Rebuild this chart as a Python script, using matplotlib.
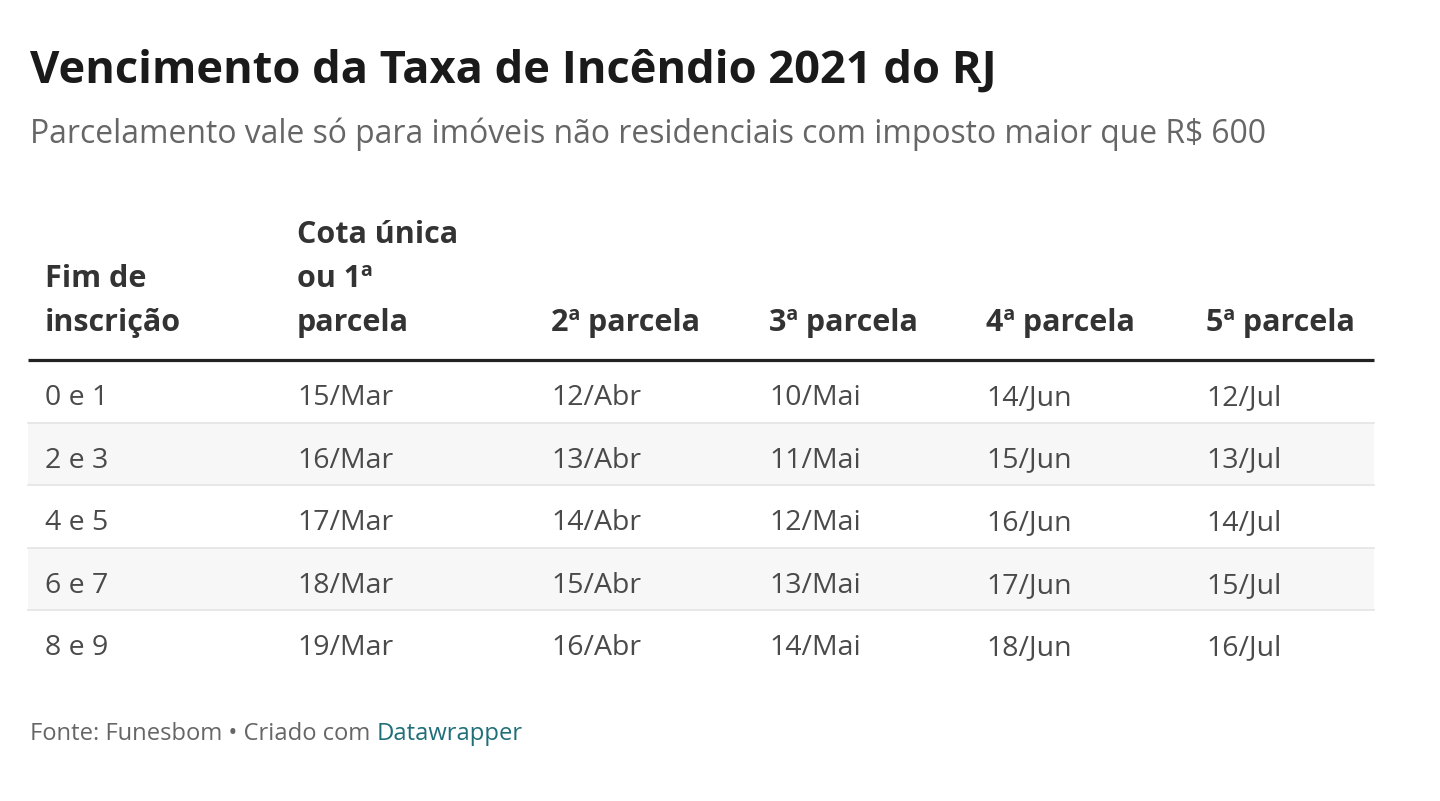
import matplotlib.pyplot as plt

plt.rcParams["font.family"] = ["Open Sans", "DejaVu Sans"]

# table data
titulo = "Vencimento da Taxa de Incêndio 2021 do RJ"
subtitulo = "Parcelamento vale só para imóveis não residenciais com imposto maior que R$ 600"
cabecalhos = [
    ["Fim de", "inscrição"],
    ["Cota única", "ou 1ª", "parcela"],
    ["2ª parcela"],
    ["3ª parcela"],
    ["4ª parcela"],
    ["5ª parcela"],
]
fim_inscricao = ["0 e 1", "2 e 3", "4 e 5", "6 e 7", "8 e 9"]
cota_unica = ["15/Mar", "16/Mar", "17/Mar", "18/Mar", "19/Mar"]
parcela_2 = ["12/Abr", "13/Abr", "14/Abr", "15/Abr", "16/Abr"]
parcela_3 = ["10/Mai", "11/Mai", "12/Mai", "13/Mai", "14/Mai"]
parcela_4 = ["14/Jun", "15/Jun", "16/Jun", "17/Jun", "18/Jun"]
parcela_5 = ["12/Jul", "13/Jul", "14/Jul", "15/Jul", "16/Jul"]

colunas = [fim_inscricao, cota_unica, parcela_2, parcela_3, parcela_4, parcela_5]

# layout in pixels
col_x = [45, 297, 551, 769, 986, 1206]
left, right = 28, 1374
header_line = 360
row_h = 62.6

fig = plt.figure(figsize=(14.4, 8.01), dpi=100)
ax = fig.add_axes([0, 0, 1, 1])
ax.set_xlim(0, 1440)
ax.set_ylim(801, 0)
ax.axis("off")

ax.text(30, 83, titulo, fontsize=32.6, fontweight="bold", color="#1a1a1a", va="baseline")
ax.text(30, 143, subtitulo, fontsize=22.95, color="#666666", va="baseline")

# header, bottom aligned
line_gap = 44
for x, linhas in zip(col_x, cabecalhos):
    for i, linha in enumerate(reversed(linhas)):
        ax.text(x, 331 - i * line_gap, linha, fontsize=22, fontweight="bold",
                color="#333333", va="baseline")

# rows
n = len(fim_inscricao)
for r in range(n):
    top = header_line + r * row_h
    if r % 2 == 1:
        ax.fill_between([left, right], top, top + row_h, color="#f7f7f7", lw=0)
    if r > 0:
        ax.plot([left, right], [top, top], color="#e4e4e4", lw=1.2)
    for x, col in zip(col_x, colunas):
        ax.text(x, top + 45, col[r], fontsize=20.5, color="#4a4a4a", va="baseline")

ax.plot([left, right], [header_line, header_line], color="#222222", lw=2.3,
        solid_capstyle="butt")

# footer
t = ax.text(30, 740, "Fonte: Funesbom • Criado com ", fontsize=17.1, color="#666666",
            va="baseline")
ax.annotate("Datawrapper", xycoords=t, xy=(1, 0), va="bottom", fontsize=17.1,
            color="#1f6f78")

fig.savefig("out.png", dpi=100, facecolor="white")
